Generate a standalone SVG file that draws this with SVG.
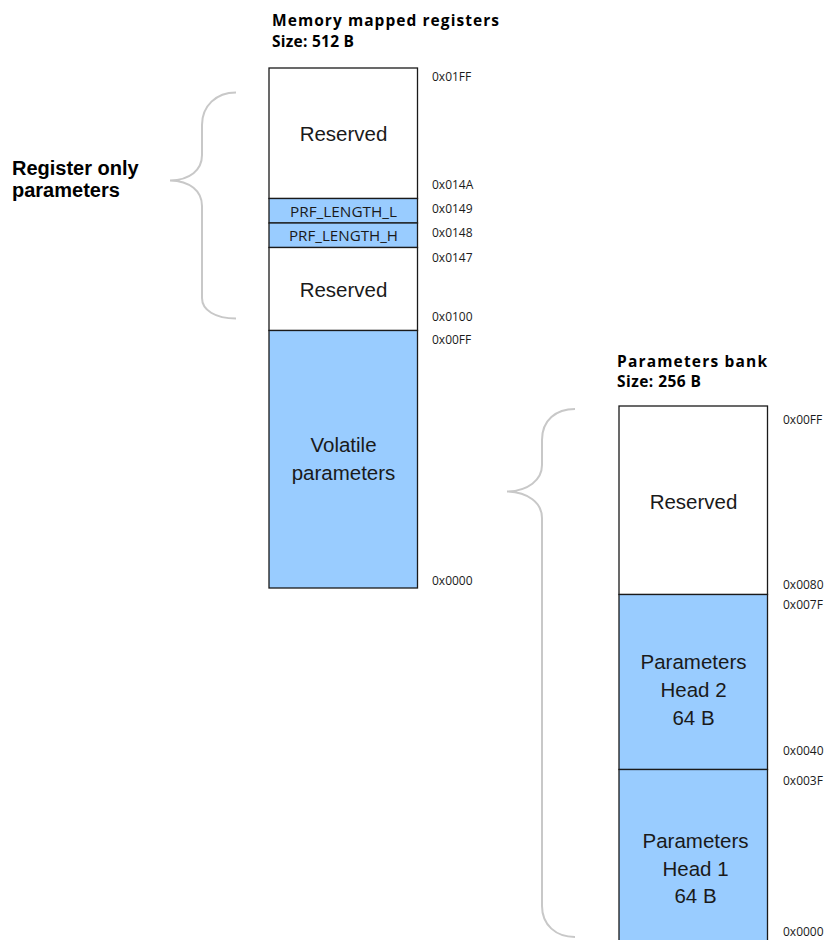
<svg xmlns="http://www.w3.org/2000/svg" width="824" height="940" viewBox="0 0 824 940">
<style>
.bg{fill:#ffffff}
.cell{stroke:#1a1a1a;stroke-width:1.3}
.white{fill:#ffffff}
.blue{fill:#99CCFF}
.body{font-family:"Liberation Sans",Arial,sans-serif;font-size:20.5px;fill:#1a1a1a;text-anchor:middle}
.reg{font-family:"Open Sans","Liberation Sans",sans-serif;font-size:15px;fill:#1a1a1a;text-anchor:middle}
.hex{font-family:"Open Sans","Liberation Sans",sans-serif;font-size:12px;fill:#1a1a1a}
.title{font-family:"Open Sans","Liberation Sans",sans-serif;font-size:15.5px;font-weight:bold;fill:#000}
.side{font-family:"Liberation Sans",Arial,sans-serif;font-size:20px;font-weight:bold;fill:#000}
.brace{fill:none;stroke:#c8c8c8;stroke-width:2}
</style>
<rect class="bg" x="0" y="0" width="824" height="940"/>

<g id="title-mmr">
<text class="title" x="272" y="26" textLength="227" lengthAdjust="spacing">Memory mapped registers</text>
<text class="title" x="272" y="46.5" textLength="82" lengthAdjust="spacing">Size: 512 B</text>
</g>
<g id="title-pb">
<text class="title" x="617" y="366.5" textLength="150" lengthAdjust="spacing">Parameters bank</text>
<text class="title" x="617" y="386.5" textLength="84" lengthAdjust="spacing">Size: 256 B</text>
</g>

<g id="label-register-only">
<text class="side" x="12" y="175">Register only</text>
<text class="side" x="12" y="197">parameters</text>
</g>

<g id="mmr-reserved-top">
<rect class="cell white" x="269" y="68" width="148.5" height="130.5"/>
<text class="body" x="343.5" y="140.5">Reserved</text>
</g>
<g id="mmr-prf-length-l">
<rect class="cell blue" x="269" y="198.5" width="148.5" height="24.5"/>
<text class="reg" x="343.5" y="216.5" textLength="107" lengthAdjust="spacingAndGlyphs">PRF_LENGTH_L</text>
</g>
<g id="mmr-prf-length-h">
<rect class="cell blue" x="269" y="223" width="148.5" height="24.5"/>
<text class="reg" x="343.5" y="240.5" textLength="109" lengthAdjust="spacingAndGlyphs">PRF_LENGTH_H</text>
</g>
<g id="mmr-reserved-bottom">
<rect class="cell white" x="269" y="247.5" width="148.5" height="83"/>
<text class="body" x="343.5" y="297">Reserved</text>
</g>
<g id="mmr-volatile">
<rect class="cell blue" x="269" y="330.5" width="148.5" height="257.5"/>
<text class="body" x="343.5" y="452">Volatile</text>
<text class="body" x="343.5" y="480">parameters</text>
</g>

<g id="mmr-addresses">
<text class="hex" x="432" y="80.5">0x01FF</text>
<text class="hex" x="432" y="188.5">0x014A</text>
<text class="hex" x="432" y="213">0x0149</text>
<text class="hex" x="432" y="236.5">0x0148</text>
<text class="hex" x="432" y="261.5">0x0147</text>
<text class="hex" x="432" y="320.5">0x0100</text>
<text class="hex" x="432" y="344">0x00FF</text>
<text class="hex" x="432" y="585">0x0000</text>
</g>

<g id="pb-reserved">
<rect class="cell white" x="619" y="406" width="148.5" height="188.5"/>
<text class="body" x="693.5" y="508.5">Reserved</text>
</g>
<g id="pb-head2">
<rect class="cell blue" x="619" y="594.5" width="148.5" height="175"/>
<text class="body" x="693.5" y="668.5">Parameters</text>
<text class="body" x="693.5" y="697">Head 2</text>
<text class="body" x="693.5" y="725">64 B</text>
</g>
<g id="pb-head1">
<rect class="cell blue" x="619" y="769.5" width="148.5" height="180"/>
<text class="body" x="695.5" y="847.5">Parameters</text>
<text class="body" x="695.5" y="876">Head 1</text>
<text class="body" x="695.5" y="903">64 B</text>
</g>

<g id="pb-addresses">
<text class="hex" x="783" y="423.5">0x00FF</text>
<text class="hex" x="783" y="588.5">0x0080</text>
<text class="hex" x="783" y="609">0x007F</text>
<text class="hex" x="783" y="755">0x0040</text>
<text class="hex" x="783" y="785">0x003F</text>
<text class="hex" x="783" y="936">0x0000</text>
</g>

<g id="connectors">
<path class="brace" d="M236,92.5 C216,92.5 202,106 202,125 L202,155 C202,170 190,180 170,180.5 C190,181 202,191 202,206 L202,298 C202,310 215,318.5 236,318.5"/>
<path class="brace" d="M575,409 C556,409 542,420 542,440 L542,465 C542,480 528,491 507,491.5 C528,492 542,503 542,518 L542,906 C542,925 556,937 575,937"/>
</g>
</svg>
